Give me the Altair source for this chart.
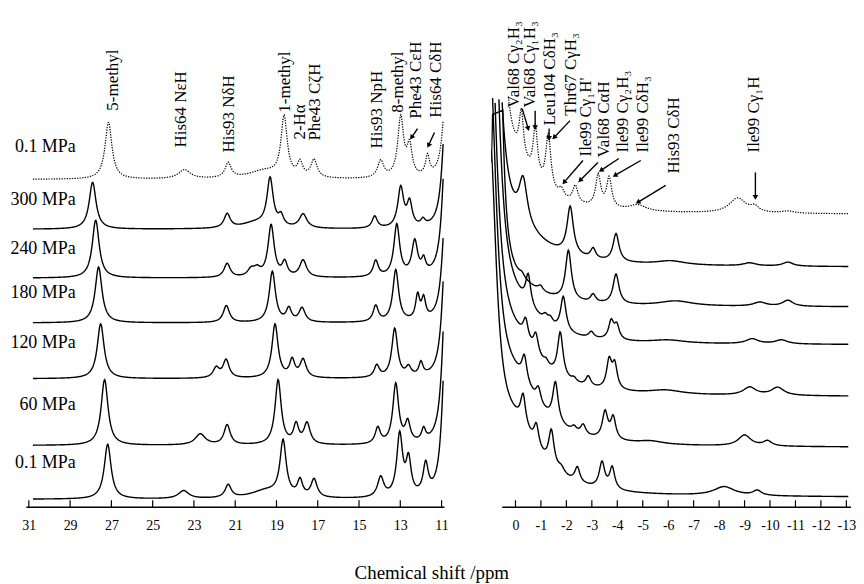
import numpy as np
import pandas as pd
import altair as alt

FONT = "Liberation Serif"

# ---------------- data ----------------
series_ids = ["s0", "s300", "s240", "s180", "s120", "s60", "s01"]
pressure_labels = ["0.1 MPa", "300 MPa", "240 MPa", "180 MPa", "120 MPa", "60 MPa", "0.1 MPa"]
label_y = [362, 308, 259, 215, 165, 103, 44]
label_ppm = [28.73] * 7

left_offsets = [329, 279, 230, 185, 129, 62, 8]
right_offsets = [294, 241, 201, 163, 111, 60, 10]

left_ticks = [31, 29, 27, 25, 23, 21, 19, 17, 15, 13, 11]
right_ticks = [0, -1, -2, -3, -4, -5, -6, -7, -8, -9, -10, -11, -12, -13]

# peak lists: (ppm, height, half width)
L_s0 = [(27.14, 57, 0.2), (23.46, 9, 0.35), (21.34, 15, 0.18), (19.6, 8, 0.9), (18.63, 60, 0.18),
        (17.86, 14, 0.15), (17.18, 18, 0.18), (13.95, 17, 0.18), (12.98, 60, 0.17), (12.55, 30, 0.15),
        (11.68, 20, 0.12), (10.8, 80, 0.2)]
L_s300 = [(27.91, 47, 0.2), (21.39, 14, 0.18), (20.0, 6, 0.8), (19.31, 48, 0.18), (18.78, 10, 0.15),
          (17.71, 14, 0.22), (14.24, 12, 0.15), (12.98, 40, 0.17), (12.55, 24, 0.15), (11.9, 6, 0.12),
          (10.8, 118, 0.2)]
L_s240 = [(27.76, 58, 0.2), (21.39, 14, 0.18), (20.23, 7, 0.2), (19.94, 7, 0.2), (19.26, 52, 0.18),
          (18.6, 14, 0.15), (17.71, 17, 0.2), (14.19, 16, 0.15), (13.17, 52, 0.17), (12.3, 34, 0.17),
          (11.87, 13, 0.12), (10.8, 137, 0.2)]
L_s180 = [(27.62, 56, 0.2), (21.43, 17, 0.18), (19.2, 51, 0.18), (18.4, 13, 0.15), (17.76, 14, 0.18),
          (14.19, 16, 0.15), (13.22, 52, 0.17), (12.16, 24, 0.12), (11.87, 20, 0.12), (10.8, 117, 0.2)]
L_s120 = [(27.52, 55, 0.2), (21.92, 10, 0.18), (21.44, 18, 0.18), (19.07, 54, 0.18), (18.24, 17, 0.15),
          (17.71, 18, 0.18), (14.14, 12, 0.15), (13.27, 49, 0.17), (12.6, 9, 0.15), (12.0, 13, 0.12),
          (10.8, 135, 0.2)]
L_s60 = [(27.33, 66, 0.2), (22.69, 11, 0.3), (21.39, 20, 0.18), (18.92, 65, 0.18), (18.05, 19, 0.15),
         (17.52, 21, 0.18), (14.09, 16, 0.15), (13.22, 60, 0.17), (12.64, 20, 0.15), (11.87, 12, 0.12),
         (10.8, 158, 0.2)]
L_s01 = [(27.18, 55, 0.2), (23.5, 8, 0.3), (21.34, 13, 0.18), (19.5, 8, 0.9), (18.68, 55, 0.18),
         (17.86, 16, 0.15), (17.18, 18, 0.18), (13.95, 20, 0.18), (13.03, 62, 0.17), (12.6, 35, 0.15),
         (11.77, 30, 0.15), (10.8, 163, 0.2)]

R_s0 = [(0.7, 300, 0.25), (0.0, 40, 1.2), (-0.23, 45, 0.1), (-0.78, 50, 0.1), (-1.29, 55, 0.12),
        (-1.8, 8, 0.12), (-2.35, 17, 0.12), (-3.25, 32, 0.12), (-3.68, 30, 0.12), (-4.8, 6, 0.4),
        (-8.73, 15, 0.4), (-9.4, 5, 0.2), (-10.7, 2, 0.3)]
R_s300 = [(0.8, 250, 0.3), (0.0, 30, 1.5), (-0.3, 45, 0.2), (-2.15, 48, 0.15), (-3.05, 10, 0.12),
          (-3.95, 28, 0.14), (-6.1, 4, 0.7), (-9.2, 3, 0.3), (-10.7, 4, 0.25)]
R_s240 = [(0.7, 500, 0.15), (0.0, 20, 1.2), (-0.25, 4, 0.12), (-0.98, 5, 0.12), (-2.08, 50, 0.14),
          (-3.05, 8, 0.12), (-3.95, 30, 0.14), (-6.3, 5, 0.8), (-9.6, 4, 0.3), (-10.7, 6, 0.25)]
R_s180 = [(0.9, 400, 0.28), (0.0, 30, 1.2), (-0.5, 30, 0.12), (-1.17, 6, 0.12), (-1.37, 6, 0.12),
          (-1.88, 35, 0.13), (-2.98, 6, 0.12), (-3.76, 18, 0.12), (-3.98, 14, 0.12), (-6.0, 3, 0.8),
          (-9.3, 5, 0.3), (-10.45, 4, 0.3)]
R_s120 = [(1.0, 380, 0.3), (0.0, 45, 1.2), (-0.4, 20, 0.12), (-0.8, 20, 0.12), (-1.2, 5, 0.12),
          (-1.76, 45, 0.13), (-2.3, 4, 0.12), (-2.86, 10, 0.12), (-3.68, 28, 0.12), (-3.9, 24, 0.12),
          (-5.9, 4, 0.8), (-9.2, 8, 0.3), (-10.3, 8, 0.3)]
R_s60 = [(1.0, 350, 0.3), (0.0, 55, 1.2), (-0.35, 25, 0.12), (-0.9, 15, 0.12), (-1.57, 40, 0.13),
         (-2.3, 5, 0.12), (-2.66, 10, 0.12), (-3.52, 27, 0.13), (-3.84, 22, 0.12), (-5.3, 3, 0.6),
         (-9.0, 11, 0.3), (-9.9, 5, 0.2)]
R_s01 = [(1.0, 320, 0.3), (0.0, 60, 1.2), (-0.3, 30, 0.12), (-0.82, 22, 0.12), (-1.41, 36, 0.13),
         (-1.8, 6, 0.15), (-2.43, 15, 0.12), (-3.4, 26, 0.13), (-3.8, 22, 0.12), (-8.2, 9, 0.5),
         (-9.5, 5, 0.2)]

left_peaks = [L_s0, L_s300, L_s240, L_s180, L_s120, L_s60, L_s01]
right_peaks = [R_s0, R_s300, R_s240, R_s180, R_s120, R_s60, R_s01]

# annotations
left_ann_text = ["5-methyl", "His64 NεH", "His93 NδH", "1-methyl", "2-Hα", "Phe43 CζH",
                 "His93 NpH", "8-methyl", "Phe43 CεH", "His64 CδH"]
left_ann_ppm = [26.94, 23.61, 21.29, 18.59, 17.86, 17.14, 14.14, 13.13, 12.26, 11.29]
left_ann_y = [398, 361, 356, 396, 369, 368, 360, 396, 390, 391]

right_ann_text = ["Val68 Cγ₂H₃", "Val68 Cγ₁H₃", "Leu104 CδH₃", "Thr67 CγH₃", "Ile99 Cγ₁H'",
                  "Val68 CαH", "Ile99 Cγ₂H₃", "Ile99 CδH₃", "His93 CδH", "Ile99 Cγ₁H"]
right_ann_ppm = [0.05, -0.58, -1.36, -2.18, -2.77, -3.47, -4.22, -5.0, -6.22, -9.39]
right_ann_y = [401, 401, 383, 393, 352, 351, 356, 356, 335, 356]

left_arrow_ppm = [12.165, 11.344]
left_arrow_y = [380, 376]
left_arrow_ppm2 = [12.455, 11.634]
left_arrow_y2 = [371, 363]

right_arrow_ppm = [-0.264, -0.773, -1.321, -2.143, -2.652, -3.24, -4.062, -4.923, -5.902, -9.426]
right_arrow_y = [400, 398, 380, 388, 348, 346, 350, 348, 323, 336]
right_arrow_ppm2 = [-0.499, -0.773, -1.321, -1.517, -1.908, -2.535, -3.357, -3.905, -4.806, -9.426]
right_arrow_y2 = [380, 381, 370, 371, 326, 328, 338, 333, 306, 311]

# ---------------- build tables ----------------
def spectrum(grid, peaks):
    out = np.zeros_like(grid)
    for c, h, w in peaks:
        out += h / (1.0 + ((grid - c) / w) ** 2)
    return out

left_grid = np.arange(30.8, 10.9, -0.025)
right_grid = np.arange(0.95, -13.1, -0.025)
CAP = 415

lrows, rrows = [], []
for sid, off, pk in zip(series_ids, left_offsets, left_peaks):
    yv = off + spectrum(left_grid, pk)
    lrows.append(pd.DataFrame({"ppm": np.round(left_grid, 3), "y": np.round(yv, 2), "s": sid}))
for sid, off, pk in zip(series_ids, right_offsets, right_peaks):
    yv = off + spectrum(right_grid, pk)
    keep = yv <= CAP
    rrows.append(pd.DataFrame({"ppm": np.round(right_grid[keep], 3), "y": np.round(yv[keep], 2), "s": sid}))
ldf = pd.concat(lrows, ignore_index=True)
rdf = pd.concat(rrows, ignore_index=True)

def arrow_df(p, y, p2, y2, pxppm):
    d = pd.DataFrame({"ppm": p, "y": y, "ppm2": p2, "y2": y2})
    dx = -(d["ppm2"] - d["ppm"]) * pxppm
    dys = -(d["y2"] - d["y"])
    d["ang"] = (np.degrees(np.arctan2(dx, -dys)) % 360).round(1)
    return d

LPX, RPX = 20.71, 25.54
l_arrows = arrow_df(left_arrow_ppm, left_arrow_y, left_arrow_ppm2, left_arrow_y2, LPX)
r_arrows = arrow_df(right_arrow_ppm, right_arrow_y, right_arrow_ppm2, right_arrow_y2, RPX)

Y = alt.Y("y:Q", scale=alt.Scale(domain=[0, 500], nice=False, zero=False), axis=None)
Y2 = alt.Y2("y2:Q")


def make_axis(ticks, neg):
    kw = dict(values=ticks, domain=False, ticks=False, tickSize=0, grid=False, labelFont=FONT,
              labelFontSize=14, labelColor="black", labelPadding=11, title=None,
              labelFlush=False, labelOverlap=False)
    if neg:
        kw["labelExpr"] = "datum.value < 0 ? '-' + abs(datum.value) : '' + datum.value"
    return alt.Axis(**kw)


def panel(df, scale, ticks, neg, axis_from, axis_to, ann_t, ann_p, ann_y, arrows, width, labels):
    ax = make_axis(ticks, neg)
    X = alt.X("ppm:Q", scale=scale, axis=ax)
    layers = []
    axis_line = pd.DataFrame({"ppm": [axis_from], "ppm2": [axis_to], "y": [0]})
    layers.append(alt.Chart(axis_line).mark_rule(color="black", strokeWidth=1.3).encode(
        x=X, x2=alt.X2("ppm2:Q"), y=Y))
    tk = pd.DataFrame({"ppm": ticks, "y": [0] * len(ticks), "y2": [7] * len(ticks)})
    layers.append(alt.Chart(tk).mark_rule(color="black", strokeWidth=1.2).encode(x=X, y=Y, y2=Y2))
    layers.append(alt.Chart(df[df.s != "s0"]).mark_line(color="black", strokeWidth=1.4, clip=True).encode(
        x=X, y=Y, detail="s:N"))
    layers.append(alt.Chart(df[df.s == "s0"]).mark_line(color="black", strokeWidth=1.2,
                                                         strokeDash=[1.3, 1.3], clip=True).encode(x=X, y=Y))
    if labels:
        lab = pd.DataFrame({"ppm": label_ppm, "y": label_y, "t": pressure_labels})
        layers.append(alt.Chart(lab).mark_text(align="right", baseline="middle", font=FONT, fontSize=18,
                                               color="black").encode(x=X, y=Y, text="t:N"))
    ann = pd.DataFrame({"ppm": ann_p, "y": ann_y, "t": ann_t})
    layers.append(alt.Chart(ann).mark_text(angle=270, align="left", baseline="middle", font=FONT,
                                           fontSize=17, color="black").encode(x=X, y=Y, text="t:N"))
    layers.append(alt.Chart(arrows).mark_rule(color="black", strokeWidth=1.4).encode(
        x=X, x2=alt.X2("ppm2:Q"), y=Y, y2=Y2))
    heads = arrows[["ppm2", "y2", "ang"]].rename(columns={"ppm2": "ppm", "y2": "y"})
    layers.append(alt.Chart(heads).mark_point(shape="triangle-up", filled=True, size=32, color="black",
                                              opacity=1).encode(x=X, y=Y, angle=alt.Angle("ang:Q", scale=None)))
    return alt.layer(*layers).properties(width=width, height=500)


left = panel(ldf, alt.Scale(domain=[32.01, 10.86], nice=False, zero=False), left_ticks, False,
             31.12, 10.86, left_ann_text, left_ann_ppm, left_ann_y, l_arrows, 438, True)
right = panel(rdf, alt.Scale(domain=[0.95, -13.3], nice=False, zero=False), right_ticks, True,
              0.52, -13.18, right_ann_text, right_ann_ppm, right_ann_y, r_arrows, 364, False)

chart = alt.hconcat(left, right, spacing=47, bounds="flush").properties(
    padding=0,
    background="white",
    title=alt.TitleParams("Chemical shift /ppm", orient="bottom", anchor="middle", font=FONT,
                          fontSize=19, fontWeight="normal", color="black", offset=32),
).configure_view(strokeWidth=0, strokeOpacity=0)

chart.save("out.html", embed_options={"renderer": "svg", "actions": False})
